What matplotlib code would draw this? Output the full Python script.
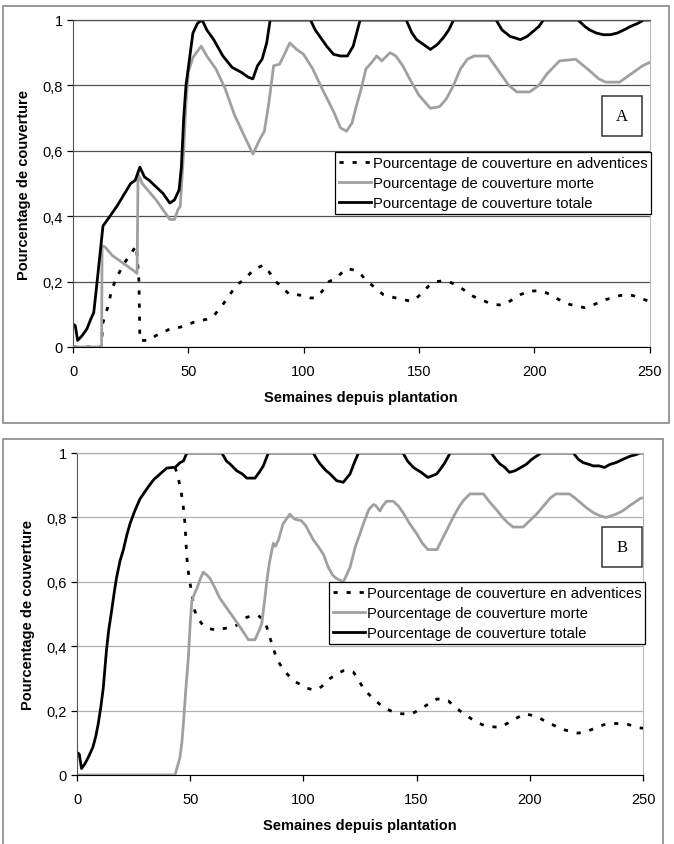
import matplotlib
matplotlib.use("Agg")
import matplotlib.pyplot as plt
from matplotlib.patches import Rectangle
from matplotlib.ticker import FuncFormatter

plt.rcParams["font.family"] = ["Liberation Sans", "DejaVu Sans"]

# (semaine, valeur)
a_adventices = [(0, 0), (12.4, 0), (12.8, 0.07), (15, 0.12), (17, 0.18), (19.5, 0.22), (21.7, 0.25),
                (24.5, 0.28), (27.5, 0.31), (28.6, 0.2), (29, 0.02), (31, 0.02), (33, 0.02), (36, 0.035),
                (39, 0.045), (42, 0.055), (46, 0.06), (49, 0.065), (52, 0.075), (55, 0.08), (58, 0.085),
                (61, 0.095), (65, 0.13), (69, 0.17), (72, 0.195), (75, 0.21), (78, 0.235), (82.4, 0.25),
                (85, 0.23), (88, 0.2), (91, 0.18), (94, 0.16), (97, 0.16), (100, 0.157), (103, 0.15),
                (105, 0.15), (108, 0.17), (111, 0.2), (114, 0.21), (117, 0.23), (119, 0.24), (122, 0.235),
                (124.5, 0.225), (127, 0.205), (129.5, 0.19), (132, 0.175), (134.6, 0.16), (137, 0.155),
                (140, 0.15), (143, 0.145), (146.7, 0.14), (149, 0.15), (151.7, 0.167), (154, 0.185),
                (157.5, 0.2), (160, 0.202), (163, 0.2), (166, 0.19), (169, 0.177), (173, 0.157),
                (176, 0.147), (180, 0.136), (183, 0.13), (186, 0.128), (189, 0.138), (191.6, 0.15),
                (194, 0.16), (197.4, 0.17), (201, 0.172), (203.9, 0.17), (207, 0.16), (209.7, 0.149),
                (212, 0.14), (215.5, 0.13), (219, 0.125), (222, 0.12), (225, 0.127), (228, 0.136),
                (231, 0.145), (233.7, 0.15), (237, 0.157), (240, 0.16), (243, 0.157), (246.8, 0.147),
                (250, 0.14)]

a_morte = [(0, 0), (12.4, 0), (12.6, 0.31), (14, 0.305), (17, 0.28), (20, 0.265), (23, 0.25), (26, 0.235),
           (27.8, 0.225), (28.2, 0.53), (30, 0.50), (33, 0.475), (36, 0.45), (39, 0.42), (42, 0.39),
           (44, 0.39), (45.5, 0.42), (46.5, 0.43), (48, 0.6), (49, 0.75), (50, 0.84), (52, 0.885),
           (54, 0.905), (55.6, 0.92), (58, 0.89), (62, 0.85), (66, 0.79), (70, 0.71), (74, 0.65),
           (78, 0.59), (80, 0.62), (81, 0.635), (83, 0.66), (85, 0.75), (87, 0.86), (89.6, 0.865),
           (92, 0.9), (94, 0.93), (97, 0.91), (100, 0.895), (104, 0.85), (108, 0.79), (113, 0.72),
           (116, 0.67), (118.6, 0.66), (121, 0.685), (123, 0.74), (125, 0.79), (127, 0.85),
           (129.5, 0.87), (131.7, 0.89), (133.9, 0.875), (137.5, 0.90), (140, 0.89), (143, 0.86),
           (146, 0.82), (150, 0.77), (155, 0.73), (159, 0.735), (162, 0.76), (165, 0.80), (168, 0.85),
           (171, 0.88), (174, 0.89), (180, 0.89), (185, 0.84), (189, 0.80), (192.5, 0.78), (198, 0.78),
           (202, 0.80), (205.5, 0.835), (211, 0.875), (218, 0.88), (224, 0.845), (228, 0.82),
           (231, 0.81), (237, 0.81), (243, 0.84), (247, 0.86), (250, 0.87)]

a_totale = [(0, 0.07), (1, 0.065), (2, 0.02), (4, 0.035), (6, 0.055), (8, 0.09), (9, 0.105), (10, 0.17),
            (11.5, 0.27), (13, 0.37), (16, 0.40), (19, 0.43), (22, 0.465), (25, 0.50), (27, 0.51),
            (29, 0.55), (31, 0.52), (33, 0.51), (36, 0.49), (39, 0.47), (42, 0.44), (44, 0.45),
            (46, 0.48), (47, 0.55), (48, 0.70), (49, 0.80), (50.5, 0.88), (52, 0.96), (54, 0.99),
            (56, 1.0), (58, 0.97), (61, 0.94), (65, 0.89), (69, 0.855), (73, 0.84), (76, 0.825),
            (78, 0.82), (80, 0.86), (82, 0.88), (84, 0.93), (85.5, 1.0), (103, 1.0), (105, 0.97),
            (107, 0.95), (110, 0.92), (113, 0.895), (116, 0.89), (119, 0.89), (121.5, 0.92),
            (123, 0.96), (124.5, 1.0), (144.5, 1.0), (147, 0.96), (149, 0.94), (152, 0.925),
            (155, 0.91), (158, 0.925), (160.5, 0.945), (163, 0.97), (165, 1.0), (183.5, 1.0),
            (186, 0.97), (189.5, 0.95), (194, 0.94), (197, 0.95), (199.5, 0.965), (202, 0.98),
            (204, 1.0), (219, 1.0), (222, 0.98), (224, 0.97), (227, 0.96), (230, 0.955), (233, 0.955),
            (236, 0.96), (239, 0.97), (241.7, 0.98), (245, 0.99), (247.5, 1.0), (250, 1.0)]

b_adventices = [(43.3, 0.955), (44.5, 0.93), (46, 0.88), (47, 0.83), (47.7, 0.78), (48.5, 0.676),
                (49.2, 0.63), (50, 0.593), (51, 0.55), (52, 0.51), (53.5, 0.485), (55.8, 0.464),
                (58, 0.455), (61.7, 0.45), (65, 0.455), (69, 0.46), (72, 0.47), (75, 0.49), (78, 0.495),
                (80, 0.495), (82, 0.485), (83.8, 0.46), (85, 0.43), (86, 0.41), (88.2, 0.36), (90, 0.34),
                (92, 0.32), (94, 0.305), (96.3, 0.29), (99, 0.28), (101.5, 0.27), (104, 0.265),
                (106.6, 0.267), (109, 0.28), (111.8, 0.30), (114, 0.31), (117.6, 0.324), (120, 0.325),
                (122, 0.32), (124, 0.3), (126.4, 0.27), (129, 0.25), (131.6, 0.233), (134, 0.218),
                (136.7, 0.205), (140, 0.195), (143.4, 0.19), (147.8, 0.19), (150, 0.198), (153, 0.21),
                (156, 0.225), (159, 0.236), (161.5, 0.235), (164, 0.23), (166.5, 0.215), (169, 0.2),
                (171.5, 0.187), (174.3, 0.174), (177, 0.163), (180, 0.153), (183, 0.15), (186.8, 0.148),
                (190, 0.16), (192.6, 0.17), (195, 0.18), (197.8, 0.19), (200.5, 0.186), (203.6, 0.18),
                (206.5, 0.168), (209.5, 0.158), (212.5, 0.148), (215.4, 0.14), (218.5, 0.134),
                (221.3, 0.13), (225, 0.135), (228, 0.143), (231, 0.152), (233.6, 0.158), (236.5, 0.16),
                (239.8, 0.16), (243.5, 0.157), (247, 0.148), (250, 0.145)]

b_morte = [(0, 0), (43.3, 0), (44.5, 0.03), (45.5, 0.055), (46.3, 0.1), (47, 0.16), (48, 0.26),
           (49.2, 0.365), (50, 0.47), (50.7, 0.54), (52, 0.565), (53, 0.58), (54.5, 0.61), (55.8, 0.63),
           (57.5, 0.62), (58.8, 0.61), (61, 0.58), (63, 0.55), (66, 0.52), (69, 0.49), (72, 0.46),
           (75.7, 0.42), (78.6, 0.42), (80.5, 0.45), (81.6, 0.47), (83, 0.55), (83.8, 0.60), (85, 0.66),
           (86.7, 0.72), (87.6, 0.71), (89, 0.73), (91, 0.78), (94, 0.81), (96, 0.795), (99, 0.79),
           (101, 0.775), (104.4, 0.73), (106.5, 0.71), (108.8, 0.686), (111, 0.645), (113, 0.62),
           (114.7, 0.61), (117.6, 0.60), (119, 0.62), (120.6, 0.645), (123, 0.71), (125, 0.75),
           (127, 0.79), (129, 0.826), (131, 0.84), (132, 0.836), (133.8, 0.82), (135, 0.835),
           (136.7, 0.85), (139.7, 0.85), (142, 0.835), (144, 0.815), (147, 0.78), (150, 0.75),
           (152.5, 0.72), (155, 0.70), (159, 0.70), (161.5, 0.735), (164, 0.77), (166.5, 0.805),
           (169, 0.836), (171, 0.855), (173.6, 0.873), (179.5, 0.873), (182, 0.85), (185, 0.826),
           (188, 0.80), (190, 0.785), (192.6, 0.77), (197, 0.77), (200, 0.79), (203, 0.81),
           (206, 0.835), (209, 0.86), (211.6, 0.873), (217.5, 0.873), (220, 0.86), (222.5, 0.845),
           (225, 0.83), (228, 0.815), (231, 0.805), (233.6, 0.80), (236, 0.805), (238, 0.81),
           (241, 0.82), (244, 0.836), (247, 0.85), (249, 0.86), (250, 0.86)]

b_totale = [(0, 0.07), (1, 0.065), (2, 0.02), (3.5, 0.035), (5, 0.055), (7, 0.086), (8.3, 0.12),
            (9.4, 0.16), (10.5, 0.21), (11.6, 0.27), (13, 0.386), (14, 0.45), (15.3, 0.51),
            (16.5, 0.57), (17.5, 0.614), (19, 0.665), (20.5, 0.70), (22, 0.745), (23.4, 0.78),
            (25.5, 0.82), (27.8, 0.857), (30, 0.88), (32, 0.90), (34, 0.918), (36.7, 0.935),
            (39.6, 0.953), (42, 0.955), (43.3, 0.955), (45.5, 0.97), (47, 0.975), (48.5, 1.0), (64, 1.0),
            (66, 0.975), (67.6, 0.966), (70.5, 0.945), (73, 0.935), (75, 0.922), (78.6, 0.922),
            (80.5, 0.94), (82.3, 0.96), (84.5, 1.0), (104.4, 1.0), (106, 0.98), (107.4, 0.966),
            (110, 0.945), (111.8, 0.935), (114.7, 0.914), (117.6, 0.909), (120.6, 0.935), (122.5, 0.97),
            (124.3, 1.0), (144, 1.0), (146, 0.975), (148.6, 0.955), (152, 0.94), (155, 0.924),
            (158.9, 0.935), (160.5, 0.95), (162.5, 0.97), (164.8, 1.0), (183, 1.0), (185, 0.98),
            (186.8, 0.966), (189, 0.955), (191, 0.94), (193.5, 0.945), (196, 0.955), (198.5, 0.965),
            (200.8, 0.98), (205, 1.0), (219.2, 1.0), (221.5, 0.98), (223.6, 0.97), (226, 0.965),
            (228, 0.96), (230.5, 0.96), (233, 0.955), (235.5, 0.965), (238, 0.97), (241, 0.98),
            (244.3, 0.99), (247, 0.995), (248.5, 1.0), (250, 1.0)]

labels = ["Pourcentage de couverture en adventices",
          "Pourcentage de couverture morte",
          "Pourcentage de couverture totale"]
x_ticks = [0, 50, 100, 150, 200, 250]
y_ticks = [0, 0.2, 0.4, 0.6, 0.8, 1]

W, H = 674, 845
fig = plt.figure(figsize=(W / 100, H / 100), dpi=100)


def fx(px):
    return px / W


def fy(py):
    return 1 - py / H


def frame(x0, y0, x1, y1, color, lw):
    fig.patches.append(Rectangle((fx(x0), fy(y1)), fx(x1 - x0), (y1 - y0) / H, transform=fig.transFigure,
                                 fill=False, edgecolor=color, lw=lw, zorder=0))


def panel(box, series, grid_color, leg_anchor, letter_box, letter):
    x0, y0, x1, y1 = box
    ax = fig.add_axes([fx(x0), fy(y1), fx(x1 - x0), (y1 - y0) / H])
    adv, morte, tot = series
    ax.plot(*zip(*adv), color="black", lw=2.0, dashes=(1.5, 3.2), label=labels[0])
    ax.plot(*zip(*morte), color="#a0a0a0", lw=2.0, label=labels[1])
    ax.plot(*zip(*tot), color="black", lw=2.0, label=labels[2])
    ax.set_xlim(0, 250)
    ax.set_ylim(0, 1)
    ax.set_xticks(x_ticks)
    ax.set_yticks(y_ticks)
    ax.yaxis.set_major_formatter(FuncFormatter(lambda v, p: ("%g" % round(v, 1)).replace(".", ",")))
    ax.grid(axis="y", color=grid_color, lw=0.9)
    ax.set_axisbelow(True)
    ax.tick_params(direction="out", length=4, width=0.9, labelsize=10.5, colors="black")
    ax.tick_params(axis="x", pad=8)
    ax.spines["top"].set_color(grid_color)
    ax.spines["top"].set_linewidth(0.9)
    ax.spines["right"].set_color("#b8b8b8")
    ax.spines["left"].set_color("#555555")
    ax.spines["bottom"].set_color("black")
    ax.set_xlabel("Semaines depuis plantation", fontweight="bold", fontsize=10.5, labelpad=9)
    ax.set_ylabel("Pourcentage de couverture", fontweight="bold", fontsize=10.5, labelpad=8)
    leg = ax.legend(loc="upper right", bbox_to_anchor=(fx(leg_anchor[0]), fy(leg_anchor[1])),
                    bbox_transform=fig.transFigure, fontsize=10.6, frameon=True, fancybox=False,
                    framealpha=1, edgecolor="black", borderpad=0.25, labelspacing=0.42,
                    handlelength=2.2, handletextpad=0.1, borderaxespad=0)
    leg.get_frame().set_linewidth(0.9)
    lx0, ly0, lx1, ly1 = letter_box
    frame(lx0, ly0, lx1, ly1, "#333333", 1.1)
    fig.text(fx((lx0 + lx1) / 2), fy((ly0 + ly1) / 2), letter, ha="center", va="center",
             fontsize=12, family="Liberation Serif")
    return ax


frame(3, 7, 669, 424, "#888888", 1.2)
frame(3, 440, 663, 848, "#888888", 1.2)

panel((73, 21, 649.5, 348), (a_adventices, a_morte, a_totale), "#505050", (651, 153),
      (602, 97, 642, 137), "A")
panel((77, 454, 643, 776), (b_adventices, b_morte, b_totale), "#b0b0b0", (645, 583),
      (602, 528, 642, 568), "B")

fig.savefig("out.png", dpi=100)
